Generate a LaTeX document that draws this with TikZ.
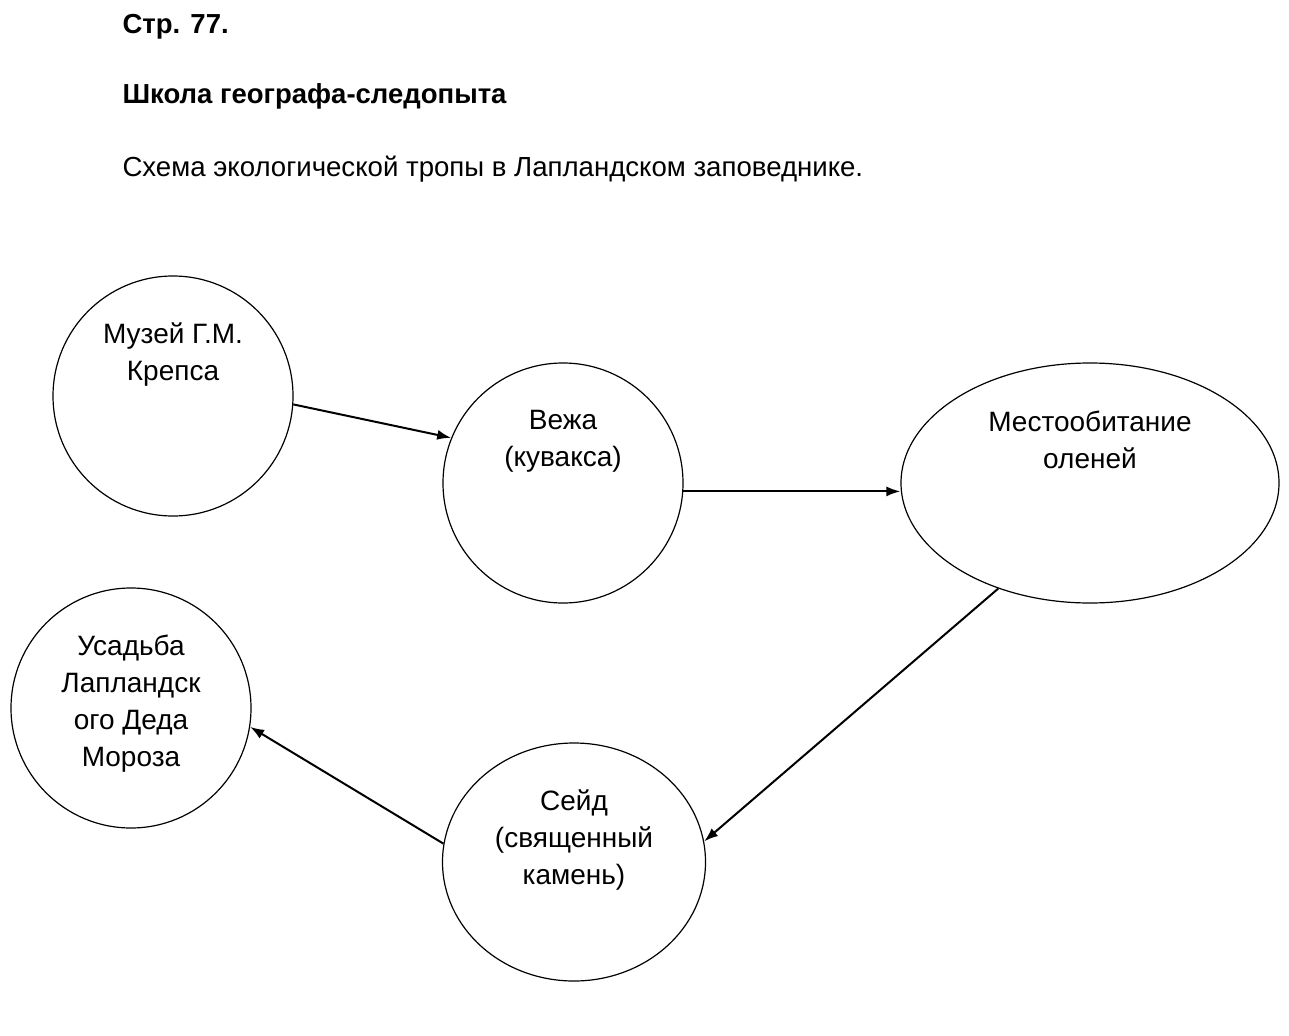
\documentclass[tikz,border=0pt]{standalone}
\usepackage{fontspec}
\setmainfont{Liberation Sans}
\usetikzlibrary{shapes.geometric,arrows.meta}

\begin{document}
\begin{tikzpicture}[x=1pt,y=-1pt,
  >={Latex[length=14pt,width=10pt]},
  stop/.style = {draw, line width=1.2pt, inner sep=0pt},
  round/.style = {stop, circle, minimum size=240pt},
  oval/.style = {stop, ellipse},
  caption/.style = {align=center, font=\fontsize{28}{37}\selectfont},
  head/.style = {anchor=base west, font=\fontsize{27.5}{30}\selectfont\bfseries},
  path/.style = {->, line width=2pt}]
  \useasboundingbox (0,0) rectangle (1289,1035);
  % titles
  \node[head] (page) at (119,34) {Стр. 77.};
  \node[head] (school) at (119,104) {Школа географа-следопыта};
  \node[anchor=base west, font=\fontsize{27.6}{30}\selectfont] (scheme) at (119,177) {Схема экологической тропы в Лапландском заповеднике.};
  % stops of the trail
  \node[round] at (173,396) (muzey) {};
  \node[caption] at (173,355) (muzeyText) {Музей Г.М.\\Крепса};
  \node[round] at (563,483) (vezha) {};
  \node[caption] at (563,441) (vezhaText) {Вежа\\(кувакса)};
  \node[oval, minimum width=378pt, minimum height=240pt] at (1090,483) (mesto) {};
  \node[caption] at (1090,440) (mestoText) {Местообитание\\оленей};
  \node[oval, minimum width=263pt, minimum height=238pt] at (574,862) (seyd) {};
  \node[caption] at (574,840) (seydText) {Сейд\\(священный\\камень)};
  \node[round] at (131,708) (usadba) {};
  \node[caption] at (131,704) (usadbaText) {Усадьба\\Лапландск\\ого Деда\\Мороза};
  % route
  \draw[path] (muzey.-4) -- (vezha.158);
  \draw[path] (vezha.-4) -- (vezha.-4 -| mesto.west);
  \draw[path] (mesto.229) -- (seyd.9);
  \draw[path] (seyd.172) -- (usadba.-9);
\end{tikzpicture}
\end{document}
